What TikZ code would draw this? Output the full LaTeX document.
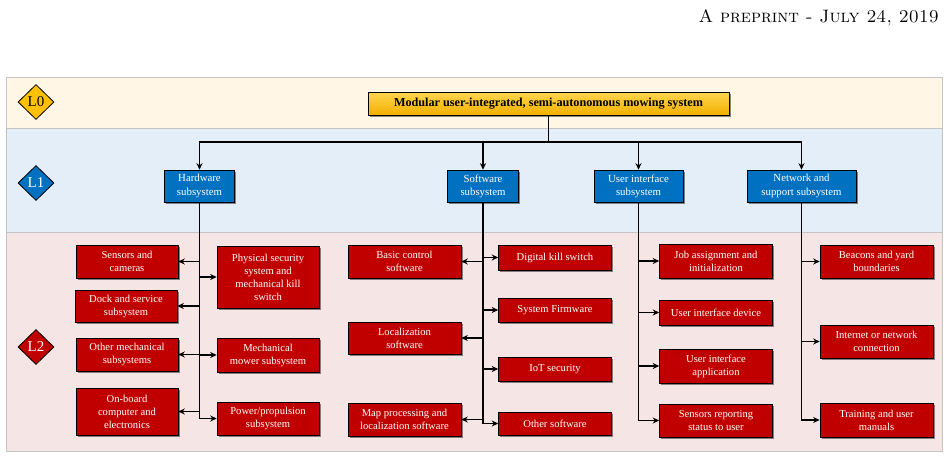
\documentclass[tikz,border=0pt]{standalone}
\usepackage{fontspec}
\newfontfamily\tnr{Liberation Serif}
\usetikzlibrary{shapes.geometric,arrows.meta,shadows}
\definecolor{gold}{HTML}{FFC000}
\definecolor{goldlight}{HTML}{FFD54F}
\definecolor{golddark}{HTML}{F2B000}
\definecolor{blu}{HTML}{0070C0}
\definecolor{rd}{HTML}{C00000}
\definecolor{bandA}{HTML}{FFF6E5}
\definecolor{bandB}{HTML}{E4EEF8}
\definecolor{bandC}{HTML}{F6E5E5}
\definecolor{bandline}{HTML}{C4C4C4}
\begin{document}
\begin{tikzpicture}[x=1pt,y=-1pt,
  box/.style={draw=black, line width=0.6pt, inner sep=1pt, align=center,
    drop shadow={shadow xshift=1.5pt,shadow yshift=-1.5pt,opacity=0.45,fill=black}},
  redbox/.style={box, fill=rd, text=white, font=\tnr\fontsize{10.6}{13}\selectfont},
  bluebox/.style={box, fill=blu, text=white, font=\tnr\fontsize{10.8}{13.2}\selectfont},
  topbox/.style={box, top color=goldlight, bottom color=golddark, font=\tnr\bfseries\fontsize{12.2}{14}\selectfont},
  lvl/.style={diamond, draw=black, line width=0.8pt, inner sep=0pt, minimum width=36pt, minimum height=35pt, font=\tnr\fontsize{15}{15}\selectfont},
  band/.style={draw=bandline, line width=0.6pt},
  conn/.style={draw=black, line width=1.1pt, -{Stealth[length=6.5pt,width=6pt]}},
  plain/.style={draw=black, line width=1.1pt}
]
\useasboundingbox (0,0) rectangle (948,466);
% header
\node[anchor=base east, inner sep=0pt, font=\fontsize{18}{18}\selectfont] (hdr) at (939,22) {\textsc{A preprint - July 24, 2019}};
% bands
\fill[bandA] (6,77) rectangle (942,128);
\fill[bandB] (6,128) rectangle (942,232);
\fill[bandC] (6,232) rectangle (942,451);
\draw[band] (6,77) rectangle (942,451);
\draw[band] (6,128) -- (942,128);
\draw[band] (6,232) -- (942,232);
% level diamonds
\node[lvl, fill=gold, text=black] (l0) at (36,102) {L0};
\node[lvl, fill=blu, text=white] (l1) at (36,183) {L1};
\node[lvl, fill=rd, text=white] (l2) at (36,347) {L2};
% top node
\node[topbox, minimum width=361pt, minimum height=23pt] (top) at (548.5,103.5) {Modular user-integrated, semi-autonomous mowing system};
% L1 nodes
\node[bluebox, minimum width=70pt, minimum height=32pt] (hw) at (199.5,186) {Hardware\\subsystem};
\node[bluebox, minimum width=71pt, minimum height=32pt] (sw) at (483,186) {Software\\subsystem};
\node[bluebox, minimum width=89pt, minimum height=32pt] (ui) at (638.5,186) {User interface\\subsystem};
\node[bluebox, minimum width=109pt, minimum height=32pt] (nw) at (801.5,186) {Network and\\support subsystem};
% top connectors
\coordinate (bus) at (548.5,142);
\draw[plain] (top.south) -- (bus);
\draw[conn] (bus) -| (hw.north);
\draw[conn] (bus) -| (sw.north);
\draw[conn] (bus) -| (ui.north);
\draw[conn] (bus) -| (nw.north);
% hardware L2
\node[redbox, minimum width=102pt, minimum height=33pt] (sc) at (127,261.5) {Sensors and\\cameras};
\node[redbox, minimum width=102pt, minimum height=32pt] (dk) at (126,306) {Dock and service\\subsystem};
\node[redbox, minimum width=102pt, minimum height=33pt] (om) at (127,354.5) {Other mechanical\\subsystems};
\node[redbox, minimum width=102pt, minimum height=47pt] (ob) at (127,411.5) {On-board\\computer and\\electronics};
\node[redbox, minimum width=102pt, minimum height=62pt] (ps) at (268,277) {Physical security\\system and\\mechanical kill\\switch};
\node[redbox, minimum width=102pt, minimum height=34pt] (mm) at (268,355) {Mechanical\\mower subsystem};
\node[redbox, minimum width=102pt, minimum height=33pt] (pp) at (268,418.5) {Power/propulsion\\subsystem};
\draw[conn, line width=1.5pt] (hw.south) |- (pp.west);
\draw[conn] (hw.south |- sc.east) -- (sc.east);
\draw[conn] (hw.south |- dk.east) -- (dk.east);
\draw[conn] (hw.south |- om.east) -- (om.east);
\draw[conn] (hw.south |- ob.east) -- (ob.east);
\draw[conn] (hw.south |- ps.west) -- (ps.west);
\draw[conn] (hw.south |- mm.west) -- (mm.west);
% software L2
\node[redbox, minimum width=113pt, minimum height=33pt] (bc) at (404.5,261.5) {Basic control\\software};
\node[redbox, minimum width=113pt, minimum height=32pt] (lo) at (404.5,338) {Localization\\software};
\node[redbox, minimum width=113pt, minimum height=33pt] (mp) at (404.5,419.5) {Map processing and\\localization software};
\node[redbox, minimum width=113pt, minimum height=25pt] (dks) at (555,257.5) {Digital kill switch};
\node[redbox, minimum width=113pt, minimum height=24pt] (sf) at (555,310) {System Firmware};
\node[redbox, minimum width=113pt, minimum height=24pt] (iot) at (555,369) {IoT security};
\node[redbox, minimum width=113pt, minimum height=23pt] (os) at (555,423.5) {Other software};
\draw[conn] (sw.south) |- (os.west);
\draw[conn] (sw.south |- bc.east) -- (bc.east);
\draw[conn] (sw.south |- lo.east) -- (lo.east);
\draw[conn] (sw.south |- mp.east) -- (mp.east);
\draw[conn] (sw.south |- dks.west) -- (dks.west);
\draw[conn] (sw.south |- sf.west) -- (sf.west);
\draw[conn] (sw.south |- iot.west) -- (iot.west);
% UI L2
\node[redbox, minimum width=113pt, minimum height=34pt] (job) at (716,261) {Job assignment and\\initialization};
\node[redbox, minimum width=113pt, minimum height=25pt] (uid) at (716,312.5) {User interface device};
\node[redbox, minimum width=113pt, minimum height=34pt] (uia) at (716,366) {User interface\\application};
\node[redbox, minimum width=113pt, minimum height=33pt] (srs) at (716,420.5) {Sensors reporting\\status to user};
\draw[conn] (ui.south) |- (srs.west);
\draw[conn] (ui.south |- job.west) -- (job.west);
\draw[conn] (ui.south |- uid.west) -- (uid.west);
\draw[conn] (ui.south |- uia.west) -- (uia.west);
% Network L2
\node[redbox, minimum width=113pt, minimum height=33pt] (bea) at (876.5,261.5) {Beacons and yard\\boundaries};
\node[redbox, minimum width=113pt, minimum height=33pt] (inet) at (876.5,341.5) {Internet or network\\connection};
\node[redbox, minimum width=113pt, minimum height=34pt] (tr) at (876.5,420) {Training and user\\manuals};
\draw[conn] (nw.south) |- (tr.west);
\draw[conn] (nw.south |- bea.west) -- (bea.west);
\draw[conn] (nw.south |- inet.west) -- (inet.west);
\end{tikzpicture}
\end{document}
